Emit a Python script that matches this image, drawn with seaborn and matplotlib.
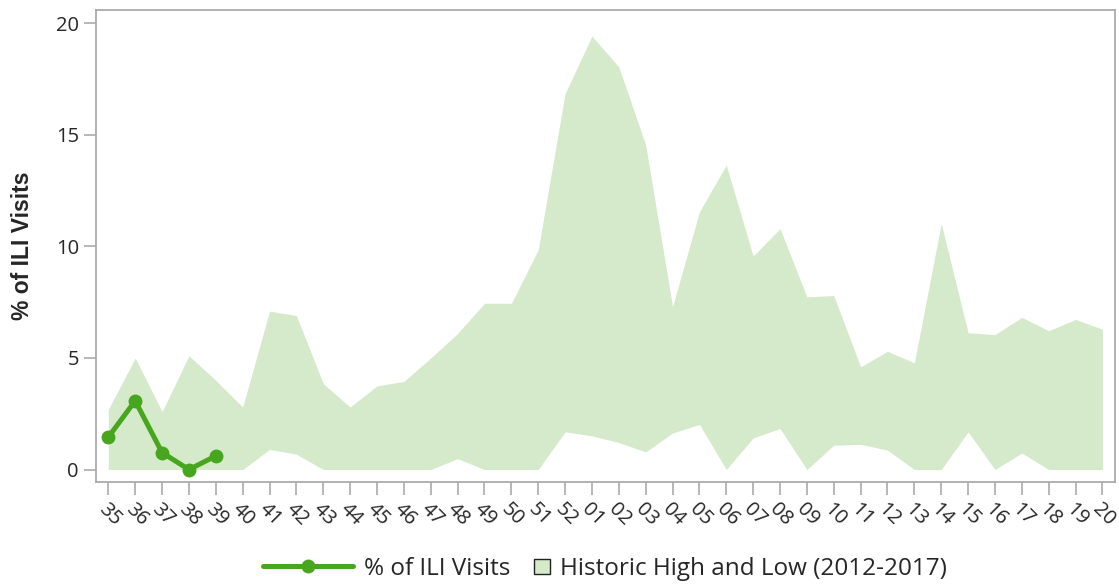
import matplotlib
matplotlib.use("Agg")
import matplotlib.pyplot as plt
from matplotlib.lines import Line2D
from matplotlib.patches import Patch, Rectangle
from matplotlib.legend_handler import HandlerPatch
import seaborn as sns
import pandas as pd

weeks = ["35", "36", "37", "38", "39", "40", "41", "42", "43", "44", "45", "46",
         "47", "48", "49", "50", "51", "52", "01", "02", "03", "04", "05", "06",
         "07", "08", "09", "10", "11", "12", "13", "14", "15", "16", "17", "18",
         "19", "20"]
hist_high = [2.7, 5.0, 2.6, 5.1, 4.0, 2.8, 7.1, 6.9, 3.85, 2.8, 3.75, 3.95,
             5.0, 6.1, 7.45, 7.45, 9.85, 16.85, 19.43, 18.05, 14.55, 7.3, 11.55, 13.65,
             9.57, 10.8, 7.74, 7.8, 4.6, 5.3, 4.78, 11.03, 6.13, 6.05, 6.82, 6.22,
             6.73, 6.29]
hist_low = [0, 0, 0, 0, 0, 0, 0.9, 0.69, 0, 0, 0, 0,
            0, 0.49, 0, 0, 0, 1.69, 1.51, 1.21, 0.79, 1.64, 2.02, 0,
            1.42, 1.84, 0, 1.09, 1.13, 0.87, 0, 0, 1.69, 0, 0.74, 0,
            0, 0]
cur_weeks = ["35", "36", "37", "38", "39"]
ili_pct = [1.45, 3.08, 0.76, 0.0, 0.61]

line_color = "#47a61e"
fill_color = "#d5eacb"

sns.set_style("white")
plt.rcParams["font.family"] = ["Open Sans", "DejaVu Sans"]

fig, ax = plt.subplots(figsize=(11.19, 5.85), dpi=100)
fig.subplots_adjust(left=0.086, right=0.996, top=0.983, bottom=0.176)

ax.fill_between(weeks, hist_low, hist_high, color=fill_color, linewidth=0)

cur = pd.DataFrame({"week": cur_weeks, "pct": ili_pct})
sns.lineplot(data=cur, x="week", y="pct", ax=ax, color=line_color, linewidth=3.6,
             marker="o", markersize=10, markeredgewidth=0, sort=False)

ax.set_xlim(-0.45, len(weeks) - 0.55)
ax.set_ylim(-0.56, 20.6)
ax.set_yticks([0, 5, 10, 15, 20])
ax.set_xlabel("")
ax.set_ylabel("% of ILI Visits", fontsize=16.5, fontweight="bold",
              family=["Liberation Sans", "DejaVu Sans"], labelpad=16)

for s in ax.spines.values():
    s.set_color("#ababab")
    s.set_linewidth(1.3)
ax.tick_params(axis="both", length=9, width=1.2, color="#ababab", labelsize=14.5,
               bottom=True, left=True)
plt.setp(ax.get_xticklabels(), rotation=-45, ha="left", rotation_mode="anchor")


def square_patch(legend, orig_handle, xdescent, ydescent, width, height, fontsize):
    size = height * 0.9
    return Rectangle((width - size - xdescent, -ydescent + (height - size) / 2), size, size)


leg_fs = 17.5
handles = [
    Line2D([0], [0], color=line_color, linewidth=3.6, marker="o", markersize=10,
           markeredgewidth=0),
    Patch(facecolor=fill_color, edgecolor="#222222", linewidth=1.0),
]
fig.legend(handles, ["% of ILI Visits", "Historic High and Low (2012-2017)"],
           handler_map={Patch: HandlerPatch(patch_func=square_patch)},
           loc="lower center", bbox_to_anchor=(0.541, -0.03), ncol=2, frameon=False,
           fontsize=leg_fs, handlelength=3.7, columnspacing=-2.1, handletextpad=0.45)

fig.savefig("out.png", dpi=100)
